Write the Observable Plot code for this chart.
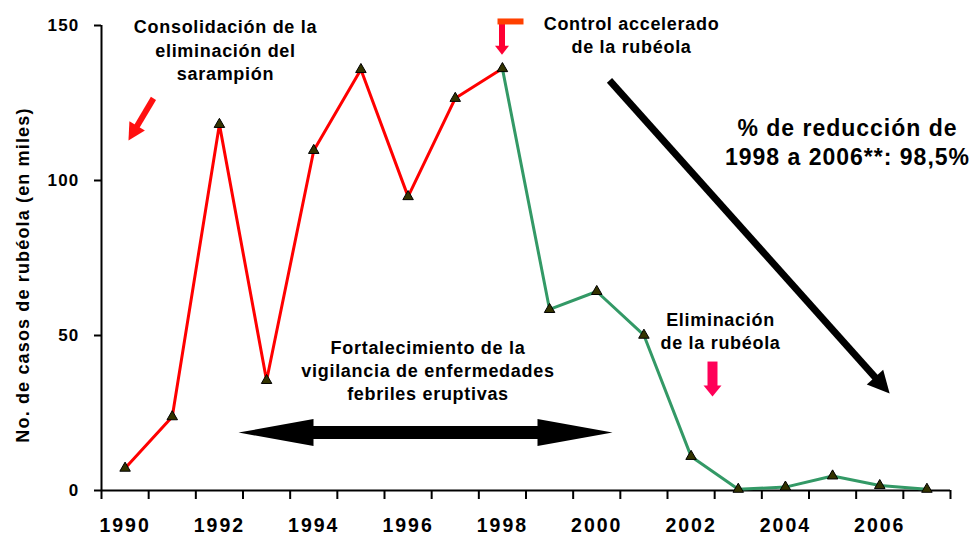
<!DOCTYPE html>
<html>
<head>
<meta charset="utf-8">
<script src="https://cdn.jsdelivr.net/npm/d3@7"></script>
<script src="https://cdn.jsdelivr.net/npm/@observablehq/plot@0.6"></script>
<style>
  html, body { margin: 0; padding: 0; background: #fff; }
  #chart svg { display: block; }
</style>
</head>
<body>
<div id="chart"></div>
<script>
// ---- data ----
const years = [1990,1991,1992,1993,1994,1995,1996,1997,1998,1999,2000,2001,2002,2003,2004,2005,2006,2007];
const cases = [7.2,23.8,118.1,35.5,109.7,135.8,94.8,126.5,136.1,58.4,64.2,50.1,11.0,0.4,1.1,4.7,1.6,0.4];
const redYears = years.filter(y => y <= 1998);
const greenYears = years.filter(y => y >= 1998);
const xLabelYears = [1990,1992,1994,1996,1998,2000,2002,2004,2006];
const xBoundaries = d3.range(1989.5, 2008, 1);
const yTicks = [0, 50, 100, 150];
const yTitle = ["No. de casos de rubéola (en miles)"];
const yTitlePos = [[1987.836, 69.5]];

// annotations (data coordinates)
const noteText = [
  "Consolidación de la\neliminación del\nsarampión",
  "Control accelerado\nde la rubéola",
  "% de reducción de\n1998 a 2006**: 98,5%",
  "Fortalecimiento de la\nvigilancia de enfermedades\nfebriles eruptivas",
  "Eliminación\nde la rubéola"
];
const noteX = [1992.129, 2000.737, 2005.316, 1996.422, 2002.624];
const noteY = [142.4, 147.3, 112.6, 39.0, 51.8];
const noteSize = [18, 18, 23, 18, 18];
const noteSpacing = [0.7, 0.7, 1.0, 0.7, 0.7];
const noteLine = [1.3, 1.33, 1.24, 1.3, 1.3];

// arrows: [x1, y1, x2(tip), y2(tip)]
const arrowPts = [
  [1990.602, 126.5, 1990.072, 112.9],
  [2000.27, 132.3, 2006.21, 31.3],
  [1992.405, 18.7, 2000.334, 18.7],
  [1997.991, 151.3, 1997.991, 140.6],
  [2002.454, 41.6, 2002.454, 30.3]
];
const arrowColor = ["#ff1010", "#000000", "#000000", "#ff0033", "#ff0058"];
const arrowShaft = [6, 7, 13, 6, 10];
const arrowHeadLen = [17, 22, 75, 9, 11];
const arrowHeadWid = [18, 22, 27, 14, 18];
const arrowDouble = [false, false, true, false, false];
const barPts = [[1997.896, 151.3, 1998.447, 151.3]];
const barColor = ["#ff4000"];

// ---- layout ----
const W = 973, H = 535;
const mL = 101, mR = 23, mT = 25, mB = 45;
const xDomain = [1989.5, 2007.5];
const yDomain = [0, 150];
const xs = Plot.scale({x: {type: "linear", domain: xDomain, range: [mL, W - mR]}});
const ys = Plot.scale({y: {type: "linear", domain: yDomain, range: [H - mB, mT]}});

function headSymbol(len, wid, ux, uy) {
  // tip at origin, pointing along (ux, uy)
  const px = -uy, py = ux;
  return {
    draw(ctx) {
      const bx = -ux * len, by = -uy * len;
      ctx.moveTo(0, 0);
      ctx.lineTo(bx + px * wid / 2, by + py * wid / 2);
      ctx.lineTo(bx - px * wid / 2, by - py * wid / 2);
      ctx.closePath();
    }
  };
}

const arrowMarks = [];
arrowPts.forEach((a, i) => {
  const p1 = [xs.apply(a[0]), ys.apply(a[1])];
  const p2 = [xs.apply(a[2]), ys.apply(a[3])];
  const dx = p2[0] - p1[0], dy = p2[1] - p1[1];
  const L = Math.hypot(dx, dy);
  const ux = dx / L, uy = dy / L;
  const len = arrowHeadLen[i];
  const b2 = [p2[0] - ux * (len - 1), p2[1] - uy * (len - 1)];
  const b1 = arrowDouble[i] ? [p1[0] + ux * (len - 1), p1[1] + uy * (len - 1)] : p1;
  arrowMarks.push(Plot.link([0], {
    x1: () => xs.invert(b1[0]), y1: () => ys.invert(b1[1]),
    x2: () => xs.invert(b2[0]), y2: () => ys.invert(b2[1]),
    stroke: arrowColor[i], strokeWidth: arrowShaft[i], strokeLinecap: "butt"
  }));
  arrowMarks.push(Plot.dot([a], {
    x: d => d[2], y: d => d[3],
    symbol: headSymbol(len, arrowHeadWid[i], ux, uy),
    fill: arrowColor[i], stroke: "none"
  }));
  if (arrowDouble[i]) {
    arrowMarks.push(Plot.dot([a], {
      x: d => d[0], y: d => d[1],
      symbol: headSymbol(len, arrowHeadWid[i], -ux, -uy),
      fill: arrowColor[i], stroke: "none"
    }));
  }
});
barPts.forEach((b, i) => {
  arrowMarks.push(Plot.link([b], {
    x1: d => d[0], y1: d => d[1], x2: d => d[2], y2: d => d[3],
    stroke: barColor[i], strokeWidth: 6, strokeLinecap: "butt"
  }));
});

const noteMarks = noteText.map((t, i) => Plot.text([t], {
  x: () => noteX[i], y: () => noteY[i], text: d => d,
  fontSize: noteSize[i], fontWeight: "bold", lineHeight: noteLine[i],
  fill: "#000", textAnchor: "middle", lineAnchor: "middle"
}));

const chart = Plot.plot({
  width: W, height: H,
  marginLeft: mL, marginRight: mR, marginTop: mT, marginBottom: mB,
  x: {type: "linear", domain: xDomain, axis: null},
  y: {type: "linear", domain: yDomain, axis: null},
  style: {fontFamily: "'Liberation Sans', Arial, sans-serif", fontWeight: "bold", color: "#000", background: "#fff", overflow: "visible"},
  marks: [
    Plot.ruleX([xDomain[0]], {stroke: "#000", strokeWidth: 2}),
    Plot.ruleY([0], {stroke: "#000", strokeWidth: 2}),
    Plot.axisY({ticks: yTicks, tickSize: 7, tickPadding: 15, fontSize: 17, fontWeight: "bold", strokeWidth: 2, stroke: "#000", fill: "#000"}),
    Plot.axisX({ticks: xBoundaries, tickSize: 9, tickFormat: () => "", strokeWidth: 2, stroke: "#000"}),
    Plot.axisX({ticks: xLabelYears, tickSize: 0, tickPadding: 28, fontSize: 19.5, fontWeight: "bold", tickFormat: d => String(d), fill: "#000"}),
    Plot.text(yTitle, {x: () => yTitlePos[0][0], y: () => yTitlePos[0][1], text: d => d, rotate: -90, fontSize: 18, fontWeight: "bold", fill: "#000"}),
    Plot.line(redYears, {x: d => d, y: d => cases[years.indexOf(d)], stroke: "#ff0000", strokeWidth: 3}),
    Plot.line(greenYears, {x: d => d, y: d => cases[years.indexOf(d)], stroke: "#339966", strokeWidth: 3}),
    Plot.dot(years, {x: d => d, y: (d, i) => cases[i], symbol: "triangle", r: 3.9, fill: "#333300", stroke: "#000", strokeWidth: 1}),
    ...arrowMarks,
    ...noteMarks
  ]
});
document.getElementById("chart").appendChild(chart);

// letter spacing tweaks
const svg = d3.select(chart);
svg.selectAll('g[aria-label="x-axis tick label"] text').attr("letter-spacing", "2px");
svg.selectAll('g[aria-label="y-axis tick label"] text').attr("letter-spacing", "1.2px");
const textGroups = svg.selectAll('g[aria-label="text"]').nodes();
// first text group is y title, then notes
if (textGroups.length) d3.select(textGroups[0]).selectAll("text").attr("letter-spacing", "1.15px");
textGroups.slice(1).forEach((g, i) => d3.select(g).selectAll("text").attr("letter-spacing", noteSpacing[i] + "px"));
</script>
</body>
</html>
